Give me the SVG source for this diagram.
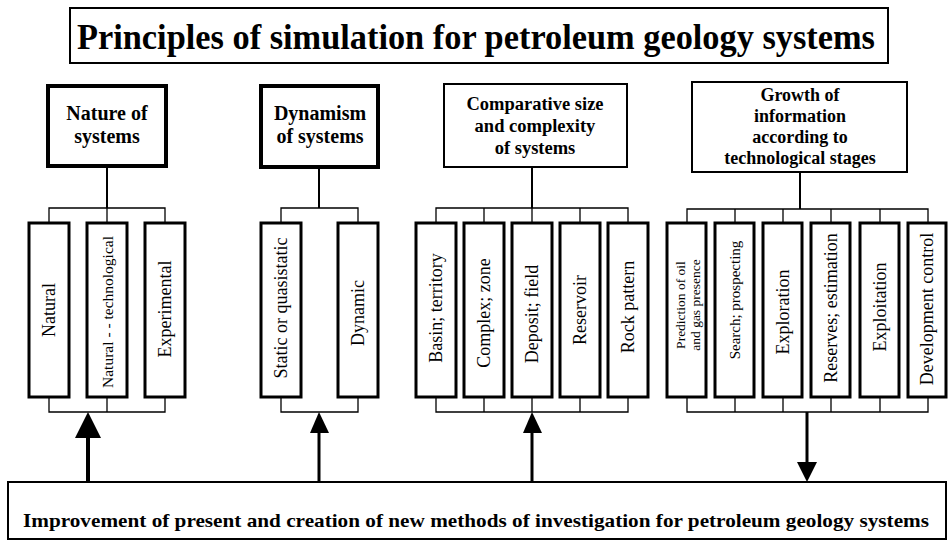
<svg xmlns="http://www.w3.org/2000/svg" width="948" height="541" viewBox="0 0 948 541">
<style>
  .bg{fill:#fff}
  .hdr{fill:#fff;stroke:#000;stroke-width:2}
  .hdrThick{fill:#fff;stroke:#000;stroke-width:4}
  .vbox{fill:#fff;stroke:#000;stroke-width:3}
  .ht{font-family:"Liberation Serif",serif;font-weight:bold;fill:#000;text-anchor:middle}
  .vt{font-family:"Liberation Serif",serif;fill:#000;text-anchor:middle;dominant-baseline:central;font-size:18px}
  .thin{stroke:#000;stroke-width:1.3;fill:none}
  .stem{stroke:#000;stroke-width:2;fill:none}
  .shaft{stroke:#000;stroke-width:3;fill:none}
  .head{fill:#000;stroke:none}
</style>
<rect class="bg" x="0" y="0" width="948" height="541"/>

<g id="title">
  <rect class="hdr" x="70" y="8" width="818" height="55"/>
  <text class="ht" x="476" y="49" font-size="36" textLength="798" lengthAdjust="spacingAndGlyphs">Principles of simulation for petroleum geology systems</text>
</g>

<g id="connectors">
  <!-- group 1 -->
  <line class="stem" x1="107" y1="166" x2="107" y2="208"/>
  <polyline class="thin" points="49,223 49,208 165,208 165,223"/>
  <line class="thin" x1="107" y1="208" x2="107" y2="223"/>
  <polyline class="thin" points="49,397 49,412 165,412 165,397"/>
  <line class="thin" x1="107" y1="397" x2="107" y2="412"/>
  <line class="shaft" style="stroke-width:4" x1="88" y1="436" x2="88" y2="482"/>
  <polygon class="head" points="88,412 75,438 101,438"/>
  <!-- group 2 -->
  <line class="stem" x1="319" y1="167" x2="319" y2="208"/>
  <polyline class="thin" points="281,223 281,208 358,208 358,223"/>
  <polyline class="thin" points="281,397 281,412 358,412 358,397"/>
  <line class="shaft" x1="319" y1="432" x2="319" y2="482"/>
  <polygon class="head" points="319,412 310,433 329,433"/>
  <!-- group 3 -->
  <line class="stem" x1="532" y1="167" x2="532" y2="208"/>
  <polyline class="thin" points="436,223 436,208 628,208 628,223"/>
  <line class="thin" x1="484" y1="208" x2="484" y2="223"/>
  <line class="thin" x1="532" y1="208" x2="532" y2="223"/>
  <line class="thin" x1="580" y1="208" x2="580" y2="223"/>
  <polyline class="thin" points="436,397 436,412 628,412 628,397"/>
  <line class="thin" x1="484" y1="397" x2="484" y2="412"/>
  <line class="thin" x1="532" y1="397" x2="532" y2="412"/>
  <line class="thin" x1="580" y1="397" x2="580" y2="412"/>
  <line class="shaft" x1="532" y1="432" x2="532" y2="482"/>
  <polygon class="head" points="532,412 523,433 542,433"/>
  <!-- group 4 -->
  <line class="stem" x1="800" y1="172" x2="800" y2="209"/>
  <polyline class="thin" points="687,223 687,209 928,209 928,223"/>
  <line class="thin" x1="735" y1="209" x2="735" y2="223"/>
  <line class="thin" x1="783" y1="209" x2="783" y2="223"/>
  <line class="thin" x1="831" y1="209" x2="831" y2="223"/>
  <line class="thin" x1="880" y1="209" x2="880" y2="223"/>
  <polyline class="thin" points="687,397 687,412 928,412 928,397"/>
  <line class="thin" x1="735" y1="397" x2="735" y2="412"/>
  <line class="thin" x1="783" y1="397" x2="783" y2="412"/>
  <line class="thin" x1="831" y1="397" x2="831" y2="412"/>
  <line class="thin" x1="880" y1="397" x2="880" y2="412"/>
  <line class="shaft" x1="807" y1="412" x2="807" y2="464"/>
  <polygon class="head" points="807,482 797,462 817,462"/>
</g>

<g id="nature">
  <rect class="hdrThick" x="48" y="86" width="118" height="80"/>
  <text class="ht" x="107" y="120" font-size="20">Nature of</text>
  <text class="ht" x="107" y="143" font-size="20">systems</text>
</g>
<g id="dynamism">
  <rect class="hdrThick" x="261" y="86" width="117" height="81"/>
  <text class="ht" x="320" y="120" font-size="20">Dynamism</text>
  <text class="ht" x="320" y="143" font-size="20">of systems</text>
</g>
<g id="comparative">
  <rect class="hdr" x="444" y="84" width="183" height="83"/>
  <text class="ht" x="535" y="110" font-size="18.5">Comparative size</text>
  <text class="ht" x="535" y="132" font-size="18.5">and complexity</text>
  <text class="ht" x="535" y="154" font-size="18.5">of systems</text>
</g>
<g id="growth">
  <rect class="hdr" x="692" y="82" width="215" height="90"/>
  <text class="ht" x="800" y="101" font-size="18">Growth of</text>
  <text class="ht" x="800" y="122" font-size="18">information</text>
  <text class="ht" x="800" y="143" font-size="18">according to</text>
  <text class="ht" x="800" y="164" font-size="18">technological stages</text>
</g>

<g id="natural"><rect class="vbox" x="29" y="223" width="40" height="174"/>
  <text class="vt" transform="translate(49,310) rotate(-90)">Natural</text></g>
<g id="natural-technological"><rect class="vbox" x="87" y="223" width="40" height="174"/>
  <text class="vt" transform="translate(107,312) rotate(-90)" style="font-size:15.5px">Natural - - technological</text></g>
<g id="experimental"><rect class="vbox" x="145" y="223" width="40" height="174"/>
  <text class="vt" transform="translate(165,309) rotate(-90)">Experimental</text></g>

<g id="static"><rect class="vbox" x="261" y="223" width="40" height="174"/>
  <text class="vt" transform="translate(281,308) rotate(-90)">Static or quasistatic</text></g>
<g id="dynamic"><rect class="vbox" x="338" y="223" width="40" height="174"/>
  <text class="vt" transform="translate(358,313) rotate(-90)">Dynamic</text></g>

<g id="basin"><rect class="vbox" x="416" y="223" width="40" height="174"/>
  <text class="vt" transform="translate(436,308) rotate(-90)">Basin; territory</text></g>
<g id="complex"><rect class="vbox" x="464" y="223" width="40" height="174"/>
  <text class="vt" transform="translate(484,313) rotate(-90)">Complex; zone</text></g>
<g id="deposit"><rect class="vbox" x="512" y="223" width="40" height="174"/>
  <text class="vt" transform="translate(532,314) rotate(-90)">Deposit; field</text></g>
<g id="reservoir"><rect class="vbox" x="560" y="223" width="40" height="174"/>
  <text class="vt" transform="translate(580,310) rotate(-90)">Reservoir</text></g>
<g id="rock"><rect class="vbox" x="608" y="223" width="40" height="174"/>
  <text class="vt" transform="translate(628,307) rotate(-90)">Rock pattern</text></g>

<g id="prediction"><rect class="vbox" x="667" y="223" width="39" height="174"/>
  <text class="vt" transform="translate(680,305) rotate(-90)" style="font-size:13.5px">Prediction of oil</text>
  <text class="vt" transform="translate(695,305) rotate(-90)" style="font-size:13.5px">and gas presence</text></g>
<g id="search"><rect class="vbox" x="715" y="223" width="39" height="174"/>
  <text class="vt" transform="translate(735,300) rotate(-90)" style="font-size:15px">Search; prospecting</text></g>
<g id="exploration"><rect class="vbox" x="763" y="223" width="39" height="174"/>
  <text class="vt" transform="translate(783,312) rotate(-90)">Exploration</text></g>
<g id="reserves"><rect class="vbox" x="811" y="223" width="39" height="174"/>
  <text class="vt" transform="translate(831,308) rotate(-90)">Reserves; estimation</text></g>
<g id="exploitation"><rect class="vbox" x="860" y="223" width="39" height="174"/>
  <text class="vt" transform="translate(880,307) rotate(-90)">Exploitation</text></g>
<g id="development"><rect class="vbox" x="908" y="223" width="38" height="174"/>
  <text class="vt" transform="translate(927,309) rotate(-90)">Development control</text></g>

<g id="improvement">
  <rect class="hdr" x="8" y="482" width="938" height="57"/>
  <text class="ht" x="476" y="527" font-size="19" textLength="906" lengthAdjust="spacingAndGlyphs">Improvement of present and creation of new methods of investigation for petroleum geology systems</text>
</g>
</svg>
